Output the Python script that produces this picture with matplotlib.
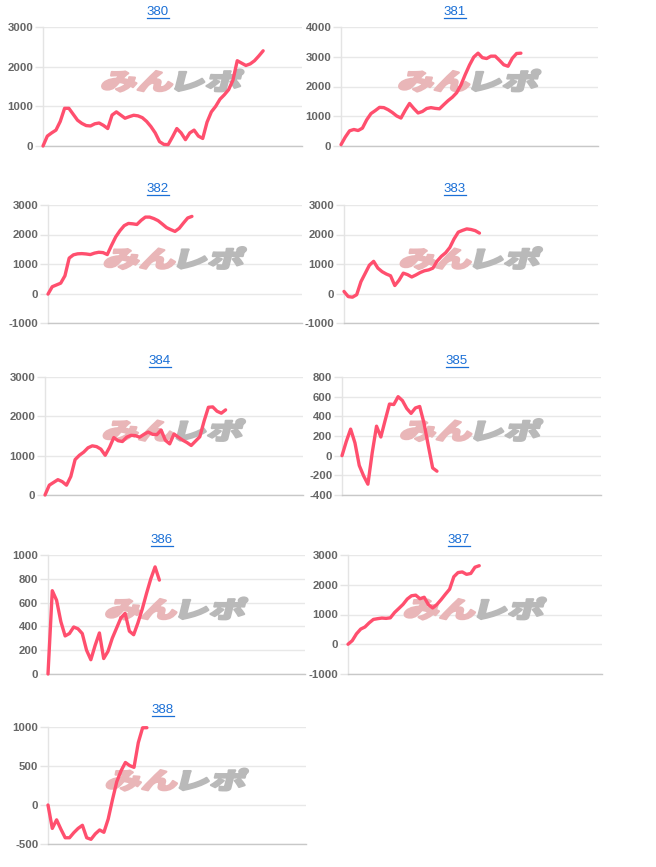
import matplotlib
matplotlib.use('Agg')
import matplotlib.pyplot as plt
import numpy as np
from matplotlib.textpath import TextPath
from matplotlib.patches import PathPatch
from matplotlib.font_manager import FontProperties
from matplotlib.transforms import Affine2D, ScaledTranslation, IdentityTransform
from matplotlib.lines import Line2D
from matplotlib.path import Path

W, H, DPI = 656, 867, 100

titles = ['380', '381', '382', '383', '384', '385', '386', '387', '388']

s380 = [0, 250, 330, 400, 620, 950, 950, 800, 650, 570, 515, 505, 560, 580, 520, 440,
        780, 860, 780, 700, 740, 775, 760, 715, 620, 490, 330, 110, 40, 35, 230, 440,
        330, 160, 330, 400, 250, 190, 600, 860, 1000, 1180, 1290, 1420, 1660, 2150,
        2090, 2030, 2070, 2150, 2270, 2400]
s381 = [45, 300, 510, 555, 520, 600, 880, 1090, 1190, 1300, 1290, 1220, 1125, 1010,
        940, 1200, 1430, 1260, 1110, 1160, 1260, 1290, 1265, 1250, 1390, 1525, 1640,
        1790, 2050, 2400, 2720, 2990, 3120, 2970, 2940, 3020, 3020, 2880, 2730, 2680,
        2950, 3110, 3120]
s382 = [-20, 230, 290, 350, 600, 1200, 1310, 1345, 1352, 1340, 1320, 1370, 1398, 1386,
        1320, 1630, 1920, 2130, 2300, 2375, 2362, 2340, 2480, 2590, 2590, 2540, 2470,
        2355, 2235, 2165, 2105, 2210, 2390, 2560, 2614]
s383 = [70, -105, -125, -40, 400, 680, 960, 1090, 860, 740, 660, 600, 270, 450, 690,
        640, 560, 630, 710, 770, 800, 860, 1100, 1260, 1380, 1560, 1850, 2080, 2140,
        2190, 2170, 2130, 2047]
s384 = [0, 250, 320, 390, 340, 250, 470, 900, 1010, 1090, 1200, 1250, 1230, 1165, 1010,
        1210, 1460, 1380, 1360, 1470, 1517, 1510, 1470, 1540, 1600, 1543, 1534, 1650,
        1390, 1300, 1550, 1470, 1395, 1335, 1259, 1370, 1480, 1880, 2230, 2240, 2130,
        2080, 2164]
s385 = [0, 145, 270, 130, -100, -205, -290, 30, 300, 190, 360, 525, 520, 600, 560, 480,
        430, 485, 500, 330, 100, -125, -158]
s386 = [0, 700, 620, 440, 320, 340, 395, 380, 340, 200, 120, 240, 345, 130, 190, 300,
        385, 470, 510, 360, 330, 430, 545, 677, 800, 900, 789]
s387 = [0, 120, 350, 510, 580, 720, 835, 860, 880, 870, 888, 1067, 1202, 1340, 1520,
        1630, 1650, 1530, 1580, 1330, 1220, 1337, 1500, 1680, 1850, 2270, 2410, 2430,
        2350, 2380, 2590, 2640]
s388 = [0, -300, -190, -310, -420, -420, -355, -300, -260, -420, -440, -370, -320, -350,
        -180, 70, 300, 440, 545, 505, 483, 800, 990, 991]

series = [s380, s381, s382, s383, s384, s385, s386, s387, s388]

y_ticks = [
    [0, 1000, 2000, 3000],
    [0, 1000, 2000, 3000, 4000],
    [-1000, 0, 1000, 2000, 3000],
    [-1000, 0, 1000, 2000, 3000],
    [0, 1000, 2000, 3000],
    [-400, -200, 0, 200, 400, 600, 800],
    [0, 200, 400, 600, 800, 1000],
    [-1000, 0, 1000, 2000, 3000],
    [-500, 0, 500, 1000],
]

# layout (pixels): plot area left, right, top, bottom; title center
boxes = [
    (43, 302, 27, 146), (341, 598, 27, 146),
    (48, 302, 205, 323), (344, 598, 205, 323),
    (45, 303, 377, 495), (342, 601, 377, 495),
    (48, 305, 555, 674), (348, 602, 555, 674),
    (48, 306, 727, 844),
]
title_pos = [(158, 12), (455, 12), (158, 189), (455, 189), (160, 361), (457, 361),
             (162, 540), (459, 540), (163, 710)]

X_SPAN = 60
LINE_COLOR = '#ff4f6e'
TICK_COLOR = '#666666'
TITLE_COLOR = '#1a6fd6'

fig = plt.figure(figsize=(W / DPI, H / DPI), dpi=DPI)
fig.patch.set_facecolor('white')

fp_wm = FontProperties(family=['Noto Sans CJK JP'], weight='black')


def watermark(ax):
    p1 = TextPath((0, 0), 'みん', size=100, prop=fp_wm)
    p2 = TextPath((0, 0), 'レポ', size=100, prop=fp_wm)
    b1 = p1.get_extents()
    b2 = p2.get_extents()
    dx = b1.x1 - b2.x0 + 10
    p2 = Path(p2.vertices + np.array([dx, 0]), p2.codes)
    x0 = b1.x0
    x1 = b2.x1 + dx
    y0 = min(b1.y0, b2.y0)
    y1 = max(b1.y1, b2.y1)
    cx, cy = (x0 + x1) / 2, (y0 + y1) / 2
    sx = 138 / (x1 - x0)
    sy = 22 / (y1 - y0)
    base = (Affine2D().translate(-cx, -cy).scale(sx, sy).skew_deg(14, 0)
            + ScaledTranslation(0.5, 0.55, ax.transAxes))
    for p, c in ((p1, '#e9b6b8'), (p2, '#b9b9b9')):
        patch = PathPatch(p, transform=base, facecolor=c, edgecolor=c, lw=1.6,
                          joinstyle='round', zorder=0.6, clip_on=False)
        ax.add_artist(patch)


title_texts = []
for i in range(9):
    l, r, t, b = boxes[i]
    ax = fig.add_axes([l / W, 1 - b / H, (r - l) / W, (b - t) / H])
    ax.set_facecolor('white')
    vals = series[i]
    x = np.arange(len(vals))
    ax.plot(x, vals, color=LINE_COLOR, lw=2.4, solid_joinstyle='round',
            solid_capstyle='round', zorder=3, clip_on=False)
    ax.set_xlim(0, X_SPAN)
    ticks = y_ticks[i]
    ax.set_ylim(ticks[0], ticks[-1])
    ax.set_yticks(ticks)
    ax.set_yticklabels([str(v) for v in ticks])
    ax.set_xticks([])
    ax.yaxis.grid(True, color='#e8e8e8', lw=1)
    ax.set_axisbelow(True)
    for sp in ('top', 'right'):
        ax.spines[sp].set_visible(False)
    ax.spines['left'].set_color('#e4e4e4')
    ax.spines['left'].set_linewidth(1)
    ax.spines['bottom'].set_color('#c8c8c8')
    ax.spines['bottom'].set_linewidth(1)
    ax.tick_params(axis='y', length=6, width=1, color='#e4e4e4', pad=1,
                   labelsize=8.2, labelcolor=TICK_COLOR)
    for lab in ax.get_yticklabels():
        lab.set_fontfamily(['Liberation Sans', 'DejaVu Sans'])
        lab.set_fontweight('bold')
    watermark(ax)
    tx, ty = title_pos[i]
    tt = fig.text(tx / W, 1 - ty / H, titles[i], ha='center', va='center',
                  color=TITLE_COLOR, fontsize=9.5,
                  fontfamily=['Liberation Sans', 'DejaVu Sans'])
    title_texts.append(tt)

fig.canvas.draw()
renderer = fig.canvas.get_renderer()
for tt in title_texts:
    bb = tt.get_window_extent(renderer)
    yy = bb.y0 + 0.5
    fig.add_artist(Line2D([bb.x0, bb.x1], [yy, yy], color=TITLE_COLOR, lw=0.9,
                          transform=IdentityTransform()))

fig.savefig('out.png', dpi=DPI, facecolor='white')
